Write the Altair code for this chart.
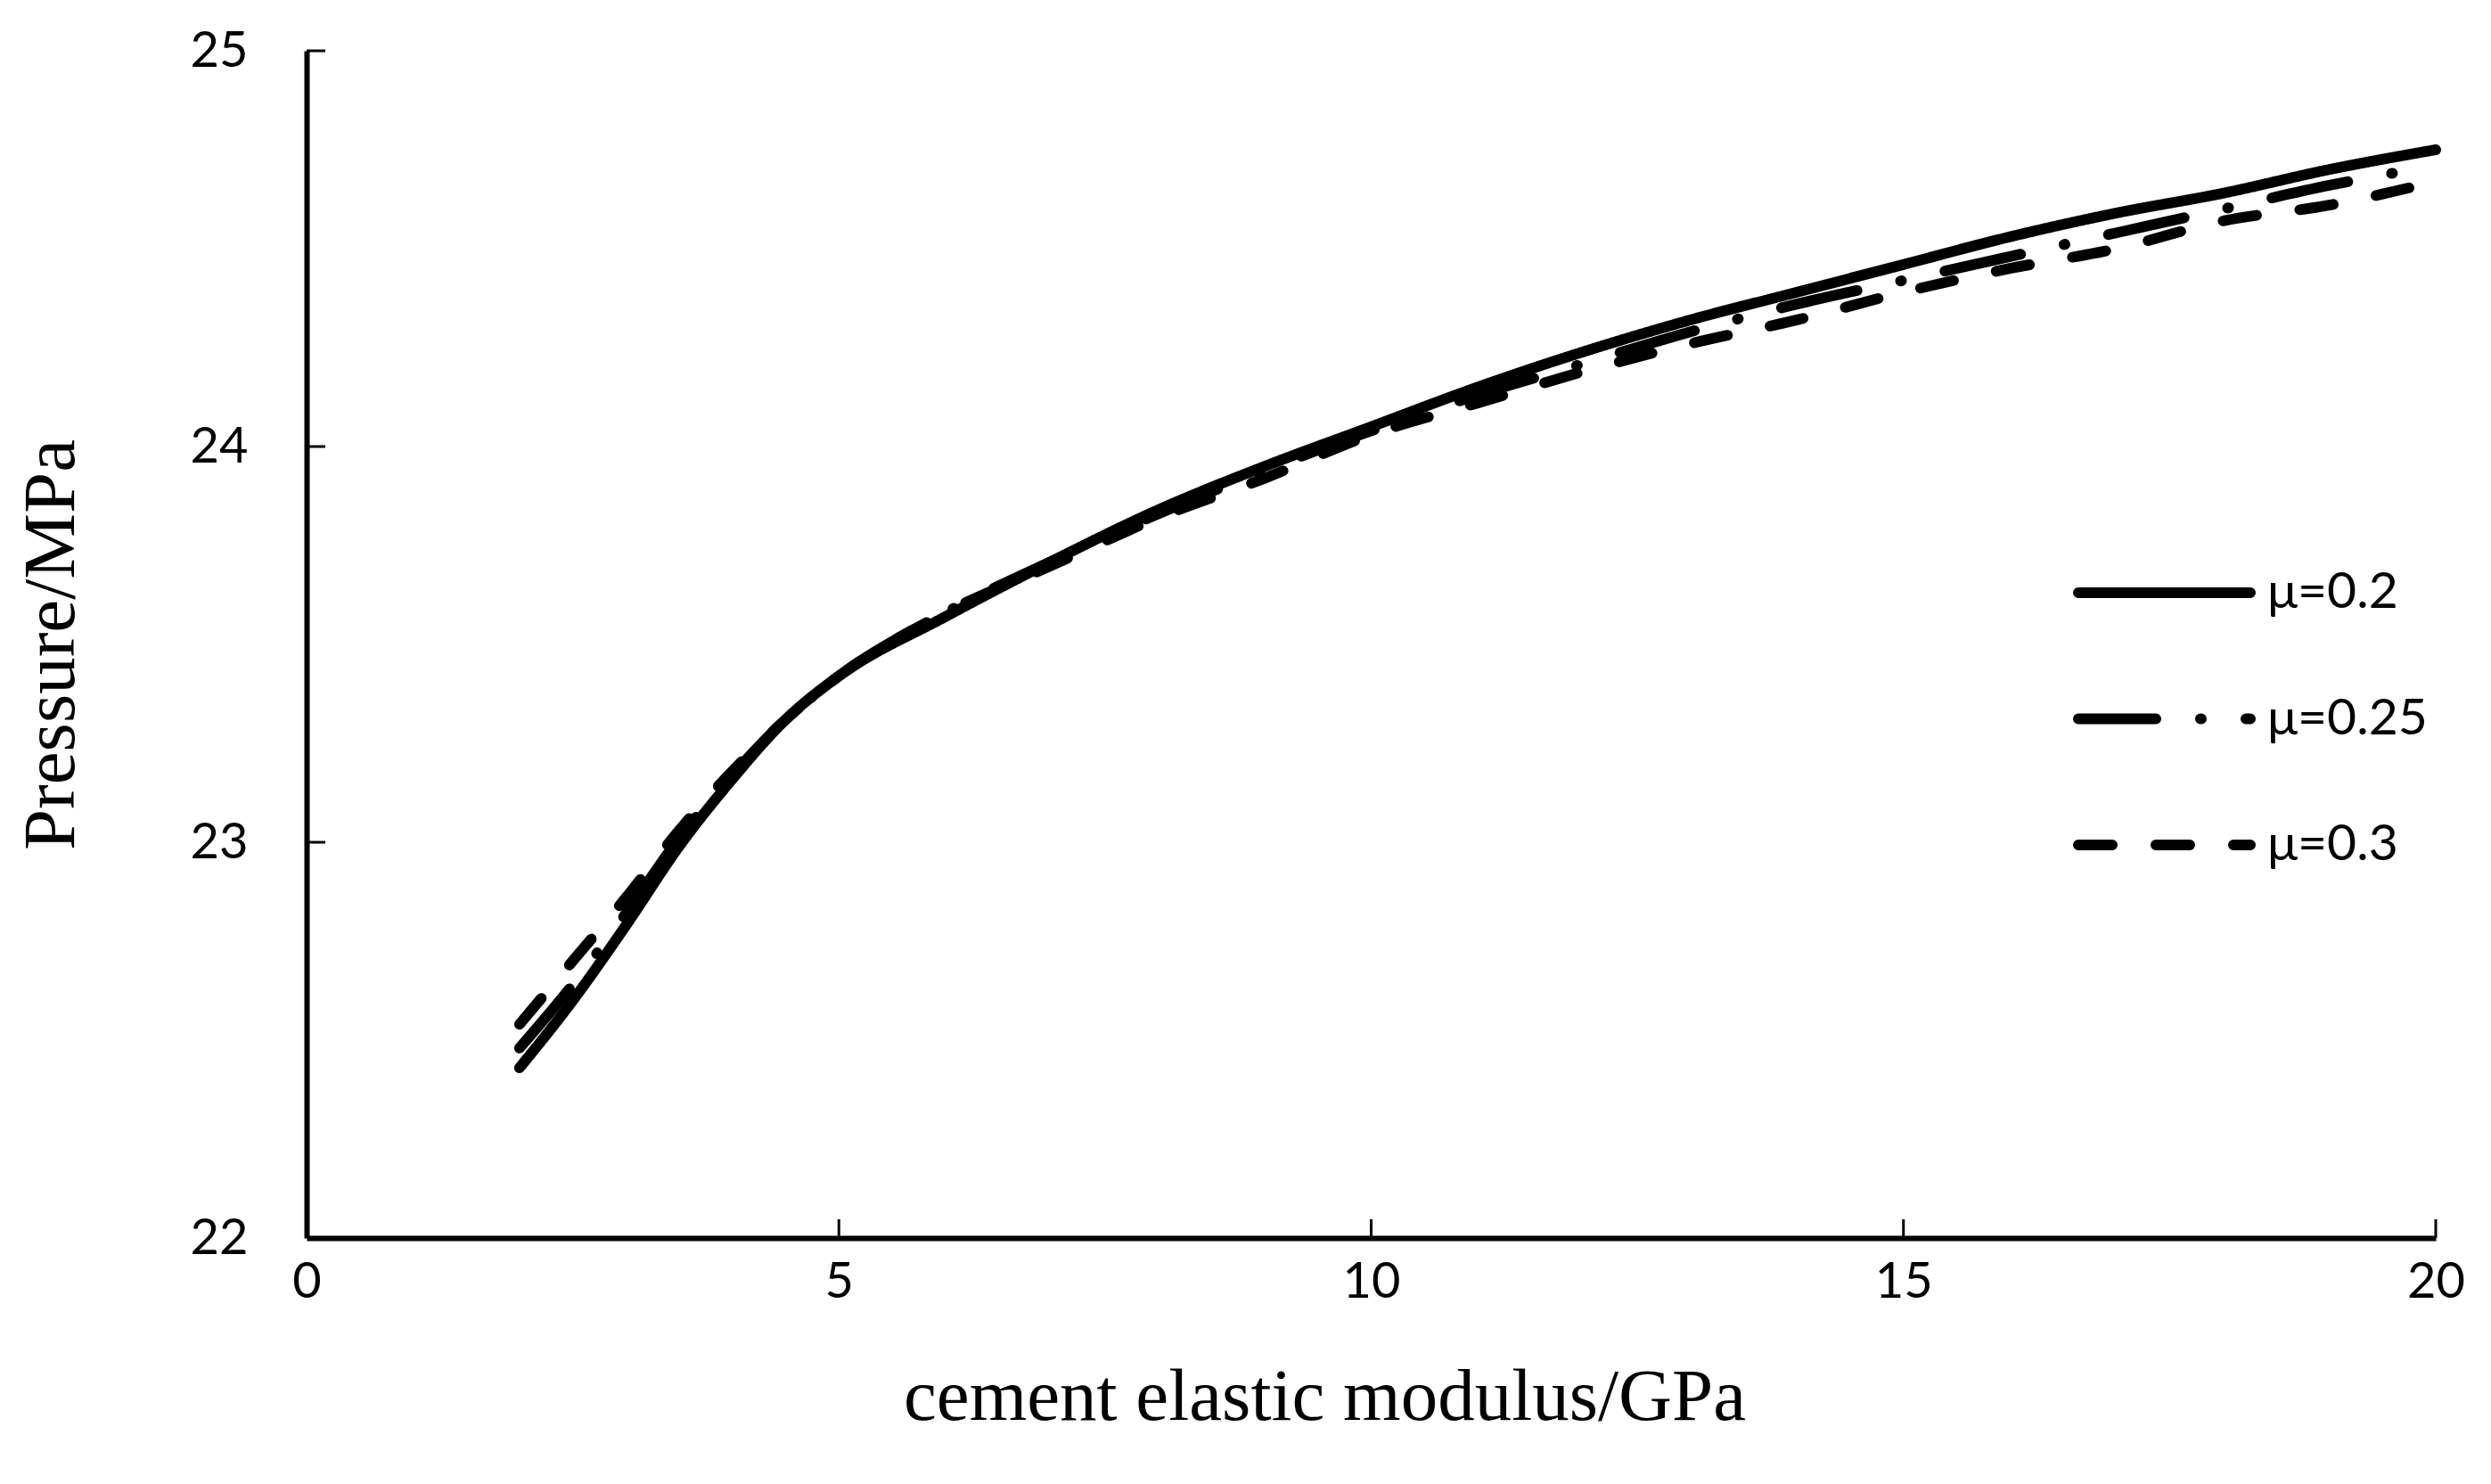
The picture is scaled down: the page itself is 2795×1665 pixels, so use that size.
import altair as alt
import pandas as pd

# ---- data ----
modulus = [2, 2.5, 3, 3.5, 4, 4.5, 5, 6, 7, 8, 9, 10, 11, 12, 13, 14, 15, 16, 17, 18, 19, 20]
p_mu020 = [22.43, 22.60, 22.79, 22.99, 23.16, 23.31, 23.42, 23.57, 23.71, 23.84, 23.95, 24.05,
           24.15, 24.24, 24.32, 24.39, 24.46, 24.53, 24.59, 24.64, 24.70, 24.75]
p_mu025 = [22.48, 22.64, 22.82, 23.01, 23.17, 23.31, 23.42, 23.58, 23.71, 23.83, 23.94, 24.04,
           24.13, 24.21, 24.29, 24.36, 24.42, 24.48, 24.54, 24.60, 24.66, 24.71]
p_mu030 = [22.54, 22.70, 22.86, 23.03, 23.18, 23.31, 23.42, 23.58, 23.70, 23.82, 23.92, 24.03,
           24.11, 24.19, 24.26, 24.32, 24.39, 24.45, 24.50, 24.57, 24.61, 24.67]
series_names = ["μ=0.2", "μ=0.25", "μ=0.3"]
x_ticks = [0, 5, 10, 15, 20]
y_ticks = [22, 23, 24, 25]
x_inner_ticks = [5, 10, 15, 20]
y_inner_ticks = [23, 24, 25]

# line styles (layout/style, not data)
dashes = [[1, 0], [87, 50, 1, 50], [38, 49]]

rows = []
for name, vals in zip(series_names, [p_mu020, p_mu025, p_mu030]):
    for xv, yv in zip(modulus, vals):
        rows.append({"E": xv, "P": yv, "series": name})
df = pd.DataFrame(rows)

W, H = 2389, 1332
TICK_LEN = 21
SW = 12

xscale = alt.Scale(domain=[0, 20], nice=False, zero=False)
yscale = alt.Scale(domain=[22, 25], nice=False, zero=False)

lines = alt.Chart(df).mark_line(
    strokeWidth=SW, strokeCap="round", strokeJoin="round", color="black", interpolate="monotone"
).encode(
    x=alt.X("E:Q", scale=xscale,
            axis=alt.Axis(values=x_ticks, format="d", title="cement elastic modulus/GPa", grid=False,
                          ticks=False, labelPadding=22, labelFlush=False, titleX=1142, titleY=203,
                          titleBaseline="alphabetic", titleAlign="center")),
    y=alt.Y("P:Q", scale=yscale,
            axis=alt.Axis(values=y_ticks, format="d", title="Pressure/MPa", grid=False, ticks=False,
                          labelPadding=66, labelFlush=False, titleX=-262, titleY=666, titleAngle=270,
                          titleBaseline="alphabetic", titleAlign="center")),
    strokeDash=alt.StrokeDash(
        "series:N",
        scale=alt.Scale(domain=series_names, range=dashes),
        legend=None,
    ),
    detail="series:N",
)

xt = alt.Chart(pd.DataFrame({"t": x_inner_ticks})).mark_rule(color="black", strokeWidth=3).encode(
    x=alt.X("t:Q", scale=xscale),
    y=alt.value(H),
    y2=alt.value(H - TICK_LEN),
)
yt = alt.Chart(pd.DataFrame({"t": y_inner_ticks})).mark_rule(color="black", strokeWidth=3).encode(
    y=alt.Y("t:Q", scale=yscale),
    x=alt.value(0),
    x2=alt.value(TICK_LEN),
)

# manual legend (round-capped dashes like the reference)
LEG_X0, LEG_X1, LEG_TX = 1988, 2181, 2200
LEG_Y0, LEG_DY = 608, 141.5
legend_layers = []
for i, name in enumerate(series_names):
    yy = LEG_Y0 + i * LEG_DY
    ldf = pd.DataFrame({"series": [name]})
    legend_layers.append(
        alt.Chart(ldf).mark_rule(color="black", strokeWidth=SW, strokeCap="round",
                                 strokeDash=dashes[i]).encode(
            x=alt.value(LEG_X0), x2=alt.value(LEG_X1), y=alt.value(yy)
        )
    )
    legend_layers.append(
        alt.Chart(ldf).mark_text(align="left", baseline="middle", font="Lato", fontSize=57,
                                 color="black").encode(
            x=alt.value(LEG_TX), y=alt.value(yy), text="series:N"
        )
    )

chart = alt.layer(xt, yt, lines, *legend_layers).properties(
    width=W, height=H,
    autosize=alt.AutoSizeParams(type="none"),
    padding={"left": 336, "top": 49, "right": 40, "bottom": 250},
    background="white",
).configure_view(stroke=None).configure_axis(
    domainColor="black", domainWidth=6,
    labelFont="Lato", labelFontSize=56, labelColor="black",
    titleFont="Liberation Serif", titleFontSize=83, titleFontWeight="normal", titleColor="black",
)

chart.save("out.html", embed_options={"renderer": "svg", "actions": False})
